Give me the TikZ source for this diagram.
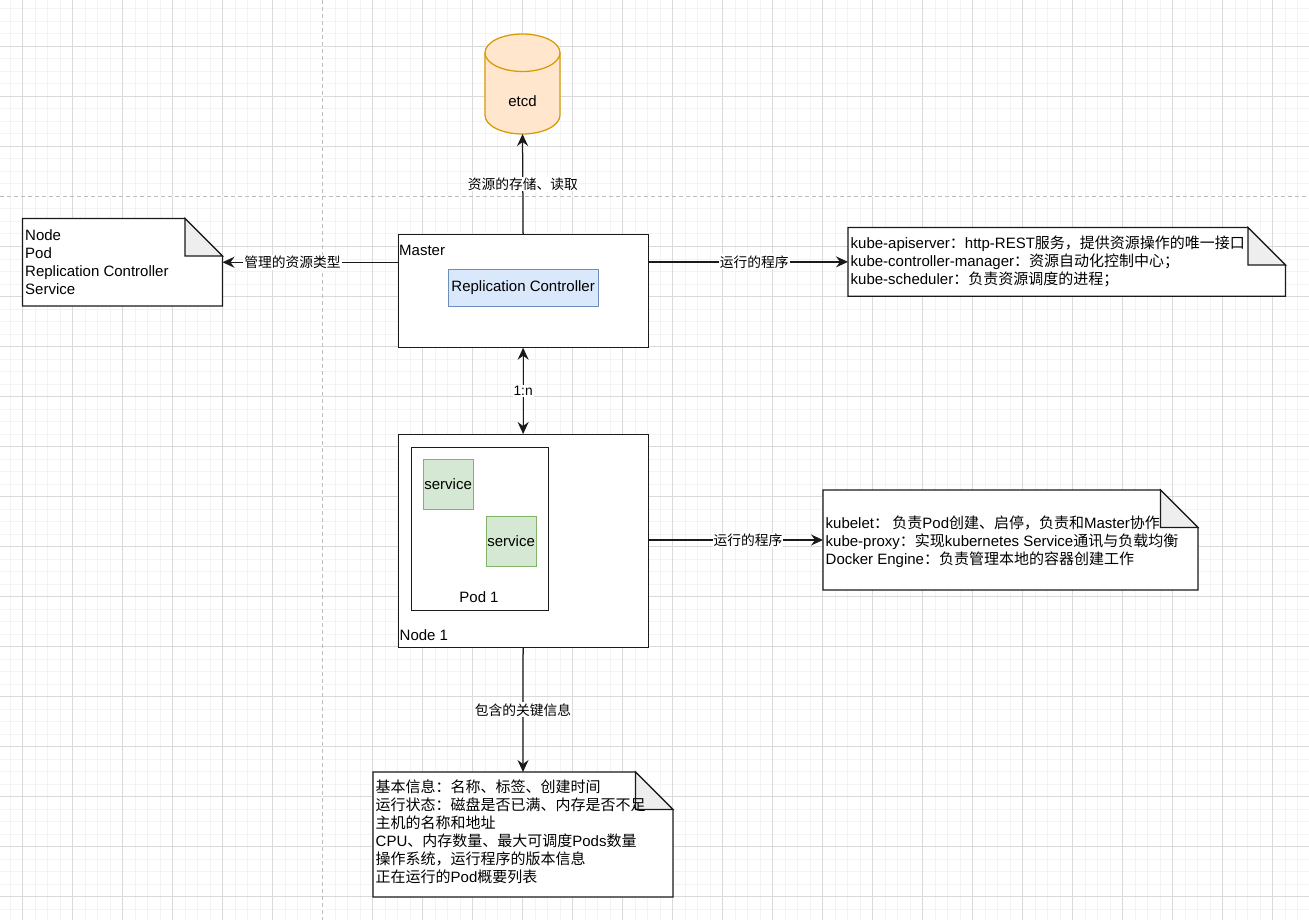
\documentclass[tikz,border=0pt]{standalone}
\usepackage{fontspec}
\setmainfont{Liberation Sans}
\newfontfamily\cjk{Noto Sans CJK SC}
\newcommand\zh[1]{{\cjk #1}}
\usetikzlibrary{arrows.meta}
\definecolor{gridminor}{HTML}{F3F3F3}
\definecolor{gridmajor}{HTML}{DADADA}
\definecolor{pagebreak}{HTML}{BDBDBD}
\definecolor{rcfill}{HTML}{DAE8FC}
\definecolor{rcdraw}{HTML}{6C8EBF}
\definecolor{svcfill}{HTML}{D5E8D4}
\definecolor{svcdraw}{HTML}{82B366}
\definecolor{etcdfill}{HTML}{FFE6CC}
\definecolor{etcddraw}{HTML}{D79B00}
\definecolor{foldfill}{HTML}{EEEEEE}
\definecolor{strokec}{HTML}{1A1A1A}
\tikzset{
  box/.style={draw=strokec, line width=1.25pt, fill=white, inner sep=0pt},
  lbl/.style={inner sep=0pt, font=\fontsize{15}{18}\selectfont},
  notetext/.style={inner sep=0pt, align=left, font=\fontsize{15}{18}\selectfont},
  notebase/.style={inner sep=0pt, outer sep=0pt, draw=none},
  notestyle/.style={draw=strokec, line width=1.25pt, fill=white},
  foldstyle/.style={draw=strokec, line width=1.25pt, fill=foldfill, line join=miter},
  tipc/.tip={Stealth[length=12pt,width=11pt,inset=4pt]},
  conn/.style={draw=strokec, line width=1.25pt, -tipc},
  conn2/.style={draw=strokec, line width=1.25pt, tipc-tipc},
  elabel/.style={fill=white, inner sep=1pt, font=\fontsize{13.75}{16.5}\selectfont},
  cyl/.style={draw=etcddraw, fill=etcdfill, line width=1.25pt},
}
\newcommand\notefold[1]{%
  \filldraw[notestyle] (#1.north west) -- ([xshift=-37.5pt]#1.north east) -- ([yshift=-37.5pt]#1.north east) -- (#1.south east) -- (#1.south west) -- cycle;
  \filldraw[foldstyle] ([xshift=-37.5pt]#1.north east) -- ([xshift=-37.5pt,yshift=-37.5pt]#1.north east) -- ([yshift=-37.5pt]#1.north east) -- cycle;}
\begin{document}
\begin{tikzpicture}[x=1pt,y=-1pt]
\fill[white] (0,0) rectangle (1309,920);
\useasboundingbox (0,0) rectangle (1309,920);
% grid
\foreach \i in {0,...,104} \draw[gridminor, line width=1pt] (10+12.5*\i,0) -- (10+12.5*\i,920);
\foreach \i in {0,...,73} \draw[gridminor, line width=1pt] (0,9+12.5*\i) -- (1309,9+12.5*\i);
\foreach \i in {0,...,25} \draw[gridmajor, line width=1pt] (22.5+50*\i,0) -- (22.5+50*\i,920);
\foreach \i in {0,...,17} \draw[gridmajor, line width=1pt] (0,46.5+50*\i) -- (1309,46.5+50*\i);
\draw[white, line width=1.2pt] (322.5,0) -- (322.5,920);
\draw[white, line width=1.2pt] (0,196.5) -- (1309,196.5);
\draw[pagebreak, line width=1pt, dash pattern=on 4pt off 3pt] (322.5,0) -- (322.5,920);
\draw[pagebreak, line width=1pt, dash pattern=on 4pt off 3pt] (0,196.5) -- (1309,196.5);

% etcd cylinder
\filldraw[cyl] (485,52.75) -- (485,115.25) arc[start angle=180, end angle=0, x radius=37.5, y radius=18.75] -- (560,52.75);
\filldraw[cyl] (522.5,52.75) ellipse[x radius=37.5, y radius=18.75];
\node[notebase, minimum width=75pt, minimum height=100pt] (etcd) at (522.5,84) {};
\node[lbl] (etcdlbl) at (522.5,101) {etcd};

% Master
\node[box, anchor=north west, minimum width=250pt, minimum height=112.5pt] (master) at (397.5,234) {};
\node[lbl, anchor=west] (masterlbl) at (399,250.5) {Master};
\node[box, fill=rcfill, draw=rcdraw, anchor=north west, minimum width=150pt, minimum height=37.5pt, font=\fontsize{15}{18}\selectfont] (rc) at (447.5,268.5) {Replication Controller};

% Node 1
\node[box, anchor=north west, minimum width=250pt, minimum height=212.5pt] (node1) at (397.5,434) {};
\node[lbl, anchor=west] (node1lbl) at (399.5,635) {Node 1};
\node[box, anchor=north west, minimum width=137.5pt, minimum height=162.5pt] (pod) at (410.5,447) {};
\node[lbl] (podlbl) at (479,597) {Pod 1};
\node[box, fill=svcfill, draw=svcdraw, anchor=north west, minimum width=50pt, minimum height=50pt, font=\fontsize{15}{18}\selectfont] (svc1) at (422.5,459) {service};
\node[box, fill=svcfill, draw=svcdraw, anchor=north west, minimum width=50pt, minimum height=50pt, font=\fontsize{15}{18}\selectfont] (svc2) at (485.5,515.5) {service};

% notes
\node[notebase, anchor=north west, minimum width=200pt, minimum height=87.5pt] (notel) at (22.5,218.5) {};
\notefold{notel}
\node[notetext, anchor=west] (notelt) at ([xshift=2.5pt]notel.west) {Node\\Pod\\Replication Controller\\Service};

\node[notebase, anchor=north west, minimum width=437.5pt, minimum height=68.75pt] (note1) at (848,227.5) {};
\notefold{note1}
\node[notetext, anchor=west] (note1t) at ([xshift=2.5pt]note1.west) {kube-apiserver\zh{：}http-REST\zh{服务，提供资源操作的唯一接口}\\kube-controller-manager\zh{：资源自动化控制中心；}\\kube-scheduler\zh{：负责资源调度的进程；}};

\node[notebase, anchor=north west, minimum width=375pt, minimum height=100pt] (note2) at (823,490) {};
\notefold{note2}
\node[notetext, anchor=west] (note2t) at ([xshift=2.5pt,yshift=-1.4pt]note2.west) {kubelet\zh{：~负责}Pod\zh{创建、启停，负责和}Master\zh{协作}\\kube-proxy\zh{：实现}kubernetes Service\zh{通讯与负载均衡}\\Docker Engine\zh{：负责管理本地的容器创建工作}};

\node[notebase, anchor=north west, minimum width=300pt, minimum height=125pt] (note3) at (373,772) {};
\notefold{note3}
\node[notetext, anchor=west] (note3t) at ([xshift=2.5pt,yshift=2.3pt]note3.west) {\zh{基本信息：名称、标签、创建时间}\\\zh{运行状态：磁盘是否已满、内存是否不足}\\\zh{主机的名称和地址}\\CPU\zh{、内存数量、最大可调度}Pods\zh{数量}\\\zh{操作系统，运行程序的版本信息}\\\zh{正在运行的}Pod\zh{概要列表}};

% connectors
\draw[conn] (master.north) -- (etcd.south) node[elabel, pos=0.5] (l1) {\zh{资源的存储、读取}};
\draw[conn] (master.west |- notel.east) -- (notel.east) node[elabel, pos=0.6] (l2) {\zh{管理的资源类型}};
\draw[conn] (master.east |- note1.west) -- (note1.west) node[elabel, pos=0.53] (l3) {\zh{运行的程序}};
\draw[conn2] (master.south) -- (node1.north) node[elabel, pos=0.5] (l4) {1:n};
\draw[conn] (node1.east |- note2.west) -- (note2.west) node[elabel, pos=0.57] (l5) {\zh{运行的程序}};
\draw[conn] (node1.south) -- (note3.north) node[elabel, pos=0.5] (l6) {\zh{包含的关键信息}};
\end{tikzpicture}
\end{document}
